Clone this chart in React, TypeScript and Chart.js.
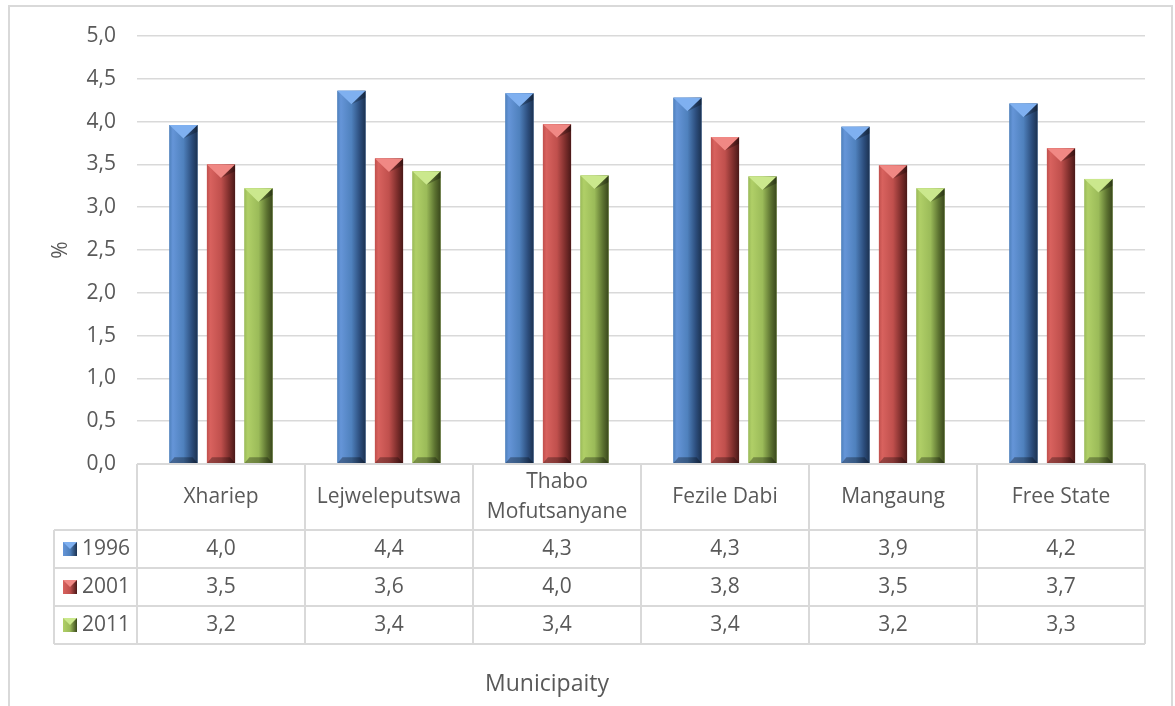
import React, { useEffect, useRef } from "react";
import { Chart, registerables } from "chart.js";

Chart.register(...registerables);

const categories: (string | string[])[] = [
  "Xhariep",
  "Lejweleputswa",
  ["Thabo", "Mofutsanyane"],
  "Fezile Dabi",
  "Mangaung",
  "Free State",
];
const seriesNames = ["1996", "2001", "2011"];
const values1996 = [3.96, 4.36, 4.33, 4.28, 3.94, 4.21];
const values2001 = [3.5, 3.57, 3.97, 3.82, 3.49, 3.69];
const values2011 = [3.22, 3.42, 3.37, 3.36, 3.22, 3.33];
const yMin = 0;
const yMax = 5;
const yStep = 0.5;
const yTitle = "%";
const xTitle = "Municipaity";

const FONT = "'Open Sans', 'DejaVu Sans', sans-serif";
const TEXT = "#595959";
const LINE = "#d9d9d9";

const palette = [
  { light: "#6595d8", mid: "#4f81bd", dark: "#1c3251", top: "#7fb0f0", bottom: "#2c4d7c" },
  { light: "#d8625e", mid: "#c0504d", dark: "#4a1918", top: "#f08884", bottom: "#7b2d2b" },
  { light: "#b0cf67", mid: "#9bbb59", dark: "#3a481c", top: "#cbe88d", bottom: "#5b7130" },
];

const fmt = (v: number) => v.toFixed(1).replace(".", ",");

const bevelPlugin = {
  id: "bevel",
  afterDatasetsDraw(chart: any) {
    const ctx = chart.ctx as CanvasRenderingContext2D;
    chart.data.datasets.forEach((_ds: any, di: number) => {
      const meta = chart.getDatasetMeta(di);
      const p = palette[di];
      meta.data.forEach((bar: any) => {
        const { x, y, base, width } = bar.getProps(["x", "y", "base", "width"], true);
        const l = x - width / 2;
        const r = x + width / 2;
        ctx.save();
        const g = ctx.createLinearGradient(l, 0, r, 0);
        g.addColorStop(0, p.mid);
        g.addColorStop(0.12, p.light);
        g.addColorStop(0.5, p.mid);
        g.addColorStop(0.8, p.bottom);
        g.addColorStop(1, p.dark);
        ctx.fillStyle = g;
        ctx.fillRect(l, y, width, base - y);
        const bh = width * 0.48;
        ctx.beginPath();
        ctx.moveTo(l, y);
        ctx.lineTo(r, y);
        ctx.lineTo(x, y + bh);
        ctx.closePath();
        ctx.fillStyle = p.top;
        ctx.fill();
        ctx.beginPath();
        ctx.moveTo(x, y + bh);
        ctx.lineTo(r, y);
        ctx.lineTo(r, y + bh * 0.5);
        ctx.closePath();
        ctx.fillStyle = "rgba(0,0,0,0.25)";
        ctx.fill();
        ctx.beginPath();
        ctx.moveTo(l, base);
        ctx.lineTo(r, base);
        ctx.lineTo(r - 5, base - 6);
        ctx.lineTo(l + 5, base - 6);
        ctx.closePath();
        ctx.fillStyle = "rgba(0,0,0,0.3)";
        ctx.fill();
        ctx.restore();
      });
    });
  },
};

const tablePlugin = {
  id: "dataTable",
  beforeDraw(chart: any) {
    const ctx = chart.ctx as CanvasRenderingContext2D;
    ctx.save();
    ctx.fillStyle = "#ffffff";
    ctx.fillRect(0, 0, chart.width, chart.height);
    ctx.strokeStyle = LINE;
    ctx.lineWidth = 2;
    ctx.strokeRect(9, 6, 1163, 760);
    ctx.restore();
  },
  afterDraw(chart: any) {
    const ctx = chart.ctx as CanvasRenderingContext2D;
    const area = chart.chartArea;
    const xs = chart.scales.x;
    const n = categories.length;
    const left = area.left;
    const right = area.right;
    const top = area.bottom;
    const colW = (right - left) / n;
    const headerH = 66;
    const rowH = 38;
    const legendLeft = 54;
    const rows = [values1996, values2001, values2011];
    const tableBottom = top + headerH + rowH * rows.length;
    ctx.save();
    ctx.strokeStyle = LINE;
    ctx.lineWidth = 2;
    ctx.beginPath();
    ctx.moveTo(left, top);
    ctx.lineTo(right, top);
    for (let i = 0; i <= rows.length; i++) {
      const yy = top + headerH + rowH * i;
      ctx.moveTo(legendLeft, yy);
      ctx.lineTo(right, yy);
    }
    for (let i = 0; i <= n; i++) {
      const xx = left + colW * i;
      ctx.moveTo(xx, top);
      ctx.lineTo(xx, tableBottom);
    }
    ctx.moveTo(legendLeft, top + headerH);
    ctx.lineTo(legendLeft, tableBottom);
    ctx.stroke();

    ctx.fillStyle = TEXT;
    ctx.font = `21px ${FONT}`;
    ctx.textAlign = "center";
    ctx.textBaseline = "middle";
    categories.forEach((c, i) => {
      const cx = xs.getPixelForValue(i);
      const lines = Array.isArray(c) ? c : [c];
      const lh = 30;
      const startY = top + headerH / 2 - ((lines.length - 1) * lh) / 2;
      lines.forEach((t, k) => ctx.fillText(t, cx, startY + k * lh));
    });
    rows.forEach((vals, ri) => {
      const cy = top + headerH + rowH * ri + rowH / 2;
      vals.forEach((v, i) => {
        ctx.fillText(fmt(v), xs.getPixelForValue(i), cy);
      });
      const p = palette[ri];
      const kx = legendLeft + 9;
      const ky = cy - 7;
      const g = ctx.createLinearGradient(kx, 0, kx + 14, 0);
      g.addColorStop(0, p.light);
      g.addColorStop(0.5, p.mid);
      g.addColorStop(1, p.dark);
      ctx.fillStyle = g;
      ctx.fillRect(kx, ky, 14, 14);
      ctx.beginPath();
      ctx.moveTo(kx, ky);
      ctx.lineTo(kx + 14, ky);
      ctx.lineTo(kx + 7, ky + 7);
      ctx.closePath();
      ctx.fillStyle = p.top;
      ctx.fill();
      ctx.fillStyle = TEXT;
      ctx.textAlign = "left";
      ctx.fillText(seriesNames[ri], legendLeft + 28, cy);
      ctx.textAlign = "center";
    });
    ctx.font = `23px ${FONT}`;
    ctx.fillText(xTitle, 547, 684);
    ctx.restore();
  },
};

export default function App() {
  const ref = useRef<HTMLCanvasElement>(null);
  useEffect(() => {
    document.body.style.margin = "0";
    const canvas = ref.current!;
    const chart = new Chart(canvas, {
      type: "bar",
      data: {
        labels: categories as any,
        datasets: [values1996, values2001, values2011].map((d, i) => ({
          label: seriesNames[i],
          data: d,
          backgroundColor: palette[i].mid,
          borderWidth: 0,
          categoryPercentage: 0.67,
          barPercentage: 0.75,
        })),
      },
      options: {
        responsive: false,
        animation: false,
        layout: { padding: { left: 0, top: 36, right: 30, bottom: 0 } },
        plugins: {
          legend: { display: false },
          tooltip: { enabled: false },
        },
        scales: {
          x: {
            ticks: { display: false },
            grid: { display: false, drawTicks: false },
            border: { display: false },
            title: { display: false, text: xTitle },
            afterFit: (s: any) => {
              s.height = 242;
            },
          },
          y: {
            min: yMin,
            max: yMax,
            ticks: {
              stepSize: yStep,
              color: TEXT,
              font: { family: FONT, size: 21 },
              padding: 21,
              callback: (v: any) => fmt(Number(v)),
            },
            grid: { color: LINE, lineWidth: 1.5, drawTicks: false, tickLength: 0 },
            border: { display: false },
            title: {
              display: true,
              text: yTitle,
              color: TEXT,
              font: { family: FONT, size: 21 },
              padding: { top: 48, bottom: 0 },
            },
            afterFit: (s: any) => {
              s.width = 137;
            },
          },
        },
      },
      plugins: [tablePlugin, bevelPlugin],
    });
    return () => chart.destroy();
  }, []);
  return <canvas ref={ref} width={1175} height={706} style={{ display: "block" }} />;
}
